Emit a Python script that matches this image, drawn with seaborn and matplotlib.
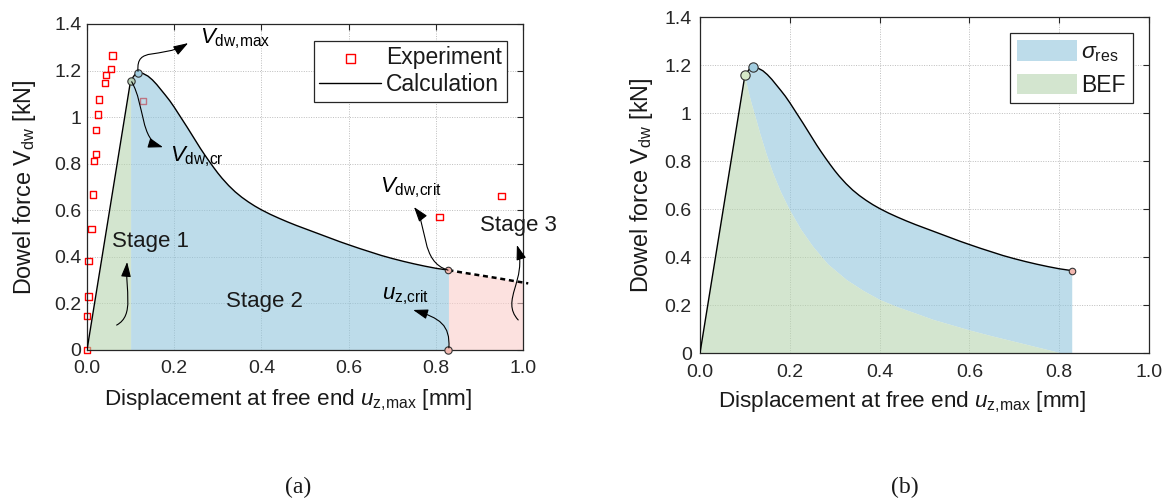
import numpy as np
import matplotlib
matplotlib.use("Agg")
import matplotlib.pyplot as plt
import seaborn as sns
from matplotlib.path import Path
from matplotlib.patches import FancyArrowPatch

# ---------------- data ----------------
calc_x = [0.000, 0.100, 0.110, 0.118, 0.128, 0.140, 0.150, 0.160, 0.170, 0.180,
          0.190, 0.200, 0.210, 0.220, 0.230, 0.240, 0.250, 0.260, 0.270, 0.280,
          0.290, 0.300, 0.310, 0.325, 0.340, 0.355, 0.370, 0.385, 0.400, 0.420,
          0.440, 0.460, 0.480, 0.500, 0.520, 0.540, 0.560, 0.580, 0.600, 0.625,
          0.650, 0.675, 0.700, 0.725, 0.750, 0.775, 0.800, 0.829]
calc_v = [0.000, 1.157, 1.183, 1.190, 1.188, 1.176, 1.160, 1.140, 1.117, 1.094,
          1.070, 1.043, 1.014, 0.985, 0.956, 0.926, 0.896, 0.866, 0.838, 0.811,
          0.785, 0.760, 0.737, 0.706, 0.679, 0.656, 0.636, 0.618, 0.602, 0.583,
          0.566, 0.550, 0.535, 0.521, 0.507, 0.493, 0.479, 0.465, 0.452, 0.436,
          0.421, 0.406, 0.393, 0.381, 0.370, 0.360, 0.351, 0.343]

ext_x = [0.829, 0.860, 0.900, 0.940, 0.980, 1.000, 1.012]
ext_v = [0.343, 0.333, 0.321, 0.309, 0.296, 0.290, 0.286]

exp_x = [0.000, 0.000, 0.003, 0.004, 0.010, 0.014, 0.016, 0.021, 0.021, 0.025,
         0.028, 0.041, 0.044, 0.055, 0.058, 0.128, 0.808, 0.951]
exp_v = [0.000, 0.146, 0.229, 0.382, 0.519, 0.668, 0.811, 0.842, 0.944, 1.012,
         1.076, 1.146, 1.182, 1.207, 1.265, 1.070, 0.572, 0.661]

bef_x = [0.100, 0.108, 0.115, 0.125, 0.134, 0.148, 0.163, 0.180, 0.200, 0.225,
         0.252, 0.285, 0.327, 0.365, 0.401, 0.440, 0.483, 0.520, 0.557, 0.601,
         0.650, 0.698, 0.750, 0.802, 0.829]
bef_v = [1.157, 1.090, 1.040, 0.975, 0.915, 0.830, 0.749, 0.672, 0.596, 0.515,
         0.443, 0.370, 0.304, 0.258, 0.221, 0.191, 0.163, 0.138, 0.118, 0.094,
         0.070, 0.048, 0.024, 0.000, 0.000]

key_x = [0.100, 0.118, 0.829]   # V_dw,cr, V_dw,max, crit
key_v = [1.157, 1.190, 0.343]

x_ticks = [0.0, 0.2, 0.4, 0.6, 0.8, 1.0]
x_ticklabels = ["0.0", "0.2", "0.4", "0.6", "0.8", "1.0"]
y_ticks = [0.0, 0.2, 0.4, 0.6, 0.8, 1.0, 1.2, 1.4]
y_ticklabels = ["0", "0.2", "0.4", "0.6", "0.8", "1", "1.2", "1.4"]

# ---------------- style ----------------
sns.set_theme(style="white")
plt.rcParams.update({
    "mathtext.fontset": "custom",
    "mathtext.rm": "Liberation Sans",
    "mathtext.it": "Liberation Sans:italic",
    "mathtext.sf": "Liberation Sans",
    "mathtext.bf": "Liberation Sans:bold",
    "text.color": "#1a1a1a",
    "axes.labelcolor": "#1a1a1a",
})
plt.rcParams["font.family"] = ["Liberation Sans", "DejaVu Sans"]

BLUE = "#91c5dc"    # -> #bddcea at alpha 0.6
GREEN = "#b7d5af"   # -> #d4e6cf
PINK = "#fbcdca"    # -> #fde1df
ALPHA = 0.6
EDGE = "#262626"

fig = plt.figure(figsize=(11.7, 5.03), dpi=100)
ax1 = fig.add_axes([87 / 1170, 1 - 350 / 503, 436 / 1170, 326 / 503])
ax2 = fig.add_axes([700 / 1170, 1 - 353 / 503, 449 / 1170, 336 / 503])


def style(ax, xpad, ypad):
    ax.set_xticks(x_ticks, x_ticklabels)
    ax.set_yticks(y_ticks, y_ticklabels)
    ax.tick_params(direction="in", top=True, right=True, length=4, width=0.8,
                   color=EDGE, labelsize=14, labelcolor="#262626")
    ax.tick_params(axis="x", pad=xpad)
    ax.tick_params(axis="y", pad=ypad)
    ax.grid(True, color="#bdbdbd", linestyle=(0, (1, 1.5)), linewidth=0.7)
    ax.set_axisbelow(True)
    for s in ax.spines.values():
        s.set_visible(True)
        s.set_color(EDGE)
        s.set_linewidth(0.9)
    ax.set_xlim(0, 1)
    ax.set_ylim(0, 1.4)


def s_arrow(ax, pts):
    path = Path(pts, [Path.MOVETO, Path.CURVE4, Path.CURVE4, Path.CURVE4])
    arr = FancyArrowPatch(path=path, arrowstyle="-|>,head_length=0.9,head_width=0.3",
                          mutation_scale=10, color="black", lw=0.8,
                          transform=ax.transData, clip_on=False, zorder=6)
    ax.add_patch(arr)


cx = np.array(calc_x)
cv = np.array(calc_v)

# ---------------- panel (a) ----------------
sns.scatterplot(x=exp_x, y=exp_v, ax=ax1, marker="s", s=22, facecolor="none",
                edgecolor="red", linewidth=1.0, label="Experiment", zorder=1,
                clip_on=False)
m1 = cx <= key_x[0]
m2 = cx >= key_x[0]
ax1.fill_between(cx[m1], 0, cv[m1], color=GREEN, alpha=ALPHA, lw=0, zorder=2)
ax1.fill_between(cx[m2], 0, cv[m2], color=BLUE, alpha=ALPHA, lw=0, zorder=2)
ax1.fill_between(ext_x, 0, ext_v, color=PINK, alpha=ALPHA, lw=0, zorder=2)
sns.lineplot(x=calc_x, y=calc_v, ax=ax1, color="black", lw=1.0, sort=False,
             estimator=None, label="Calculation", zorder=3)
sns.lineplot(x=ext_x, y=ext_v, ax=ax1, color="black", lw=1.8, sort=False,
             estimator=None, legend=False, zorder=3)
dash_line = ax1.get_lines()[-1]
dash_line.set_linestyle((0, (2.0, 1.5)))
dash_line.set_clip_on(False)

sns.scatterplot(x=[key_x[0]], y=[key_v[0]], ax=ax1, color="#b9d1b8", edgecolor="#333333",
                s=28, linewidth=0.8, zorder=5, legend=False)
sns.scatterplot(x=[key_x[1]], y=[key_v[1]], ax=ax1, color="#a2cde0", edgecolor="#333333",
                s=28, linewidth=0.8, zorder=5, legend=False)
sns.scatterplot(x=[key_x[2]], y=[key_v[2]], ax=ax1, color="#f2b8b0", edgecolor="#333333",
                s=22, linewidth=0.8, zorder=5, legend=False)
sns.scatterplot(x=[key_x[2]], y=[0.0], ax=ax1, color="#f2b8b0", edgecolor="#333333",
                s=28, linewidth=0.8, zorder=5, legend=False, clip_on=False)

# annotations
tkw = dict(fontsize=16, color="black", zorder=7)
ax1.text(0.259, 1.316, r"$V_{\mathrm{dw{,}max}}$", ha="left", va="baseline", **tkw)
ax1.text(0.190, 0.808, r"$V_{\mathrm{dw{,}cr}}$", ha="left", va="baseline", **tkw)
ax1.text(0.673, 0.675, r"$V_{\mathrm{dw{,}crit}}$", ha="left", va="baseline", **tkw)
ax1.text(0.676, 0.218, r"$u_{\mathrm{z{,}crit}}$", ha="left", va="baseline", **tkw)
ax1.text(0.057, 0.443, "Stage 1", ha="left", va="baseline", fontsize=16, zorder=7)
ax1.text(0.319, 0.186, "Stage 2", ha="left", va="baseline", fontsize=16, zorder=7)
ax1.text(0.901, 0.512, "Stage 3", ha="left", va="baseline", fontsize=16, zorder=7,
         clip_on=False)

s_arrow(ax1, [(0.117, 1.197), (0.112, 1.309), (0.167, 1.245), (0.232, 1.318)])
s_arrow(ax1, [(0.1025, 1.152), (0.133, 1.052), (0.1216, 0.901), (0.1743, 0.871)])
s_arrow(ax1, [(0.068, 0.107), (0.110, 0.150), (0.087, 0.258), (0.092, 0.378)])
s_arrow(ax1, [(0.828, 0.343), (0.764, 0.378), (0.782, 0.537), (0.750, 0.614)])
s_arrow(ax1, [(0.830, 0.009), (0.833, 0.107), (0.810, 0.137), (0.748, 0.172)])
s_arrow(ax1, [(0.989, 0.129), (0.947, 0.215), (1.011, 0.300), (0.986, 0.451)])

style(ax1, xpad=7, ypad=4)
h, l = ax1.get_legend_handles_labels()
order = [l.index("Experiment"), l.index("Calculation")]
leg1 = ax1.legend([h[i] for i in order], [l[i] for i in order], loc="upper right",
                  bbox_to_anchor=(0.964, 0.949), fontsize=16.5, frameon=True,
                  fancybox=False, edgecolor=EDGE, framealpha=1, borderpad=0.25,
                  labelspacing=0.15, handlelength=2.7, handletextpad=0.2,
                  borderaxespad=0, markerscale=1.4)
leg1.get_frame().set_linewidth(0.9)
ax1.set_xlabel(r"Displacement at free end $u_{\mathrm{z{,}max}}$ [mm]", fontsize=16.2)
ax1.set_ylabel(r"Dowel force V$_{\mathrm{dw}}$ [kN]", fontsize=16.8)
ax1.xaxis.set_label_coords(0.46, -0.115)
ax1.yaxis.set_label_coords(-0.112, 0.5)

# ---------------- panel (b) ----------------
blue_poly_x = list(calc_x[1:]) + [key_x[2]] + list(bef_x[::-1])
blue_poly_v = list(calc_v[1:]) + [0.0] + list(bef_v[::-1])
green_poly_x = [0.0] + list(bef_x)
green_poly_v = [0.0] + list(bef_v)
ax2.fill(blue_poly_x, blue_poly_v, color=BLUE, alpha=ALPHA, lw=0, zorder=2,
         label=r"$\sigma_{\mathrm{res}}$")
ax2.fill(green_poly_x, green_poly_v, color=GREEN, alpha=ALPHA, lw=0, zorder=2,
         label="BEF")
sns.lineplot(x=calc_x, y=calc_v, ax=ax2, color="black", lw=1.0, sort=False,
             estimator=None, legend=False, zorder=3)
sns.scatterplot(x=[key_x[0]], y=[key_v[0]], ax=ax2, color="#d6e8c8", edgecolor="#333333",
                s=45, linewidth=0.8, zorder=5, legend=False)
sns.scatterplot(x=[key_x[1]], y=[key_v[1]], ax=ax2, color="#a2cde0", edgecolor="#333333",
                s=45, linewidth=0.8, zorder=5, legend=False)
sns.scatterplot(x=[key_x[2]], y=[key_v[2]], ax=ax2, color="#f2b8b0", edgecolor="#333333",
                s=22, linewidth=0.8, zorder=5, legend=False)

style(ax2, xpad=8, ypad=6)
h2, l2 = ax2.get_legend_handles_labels()
leg2 = ax2.legend(h2, l2, loc="upper right", bbox_to_anchor=(0.964, 0.951),
                  fontsize=16.5, frameon=True, fancybox=False, edgecolor=EDGE,
                  framealpha=1, borderpad=0.3, labelspacing=0.4,
                  handlelength=2.6, handleheight=1.0, handletextpad=0.2,
                  borderaxespad=0)
leg2.get_frame().set_linewidth(0.9)
ax2.set_xlabel(r"Displacement at free end $u_{\mathrm{z{,}max}}$ [mm]", fontsize=16.2)
ax2.set_ylabel(r"Dowel force V$_{\mathrm{dw}}$ [kN]", fontsize=16.8)
ax2.xaxis.set_label_coords(0.45, -0.11)
ax2.yaxis.set_label_coords(-0.100, 0.5)

# ---------------- captions ----------------
fig.text(298 / 1170, 0.02, "(a)", ha="center", va="baseline", fontsize=17,
         family=["Liberation Serif", "DejaVu Serif"])
fig.text(905 / 1170, 0.02, "(b)", ha="center", va="baseline", fontsize=17,
         family=["Liberation Serif", "DejaVu Serif"])

fig.savefig("out.png", dpi=100, facecolor="white")
